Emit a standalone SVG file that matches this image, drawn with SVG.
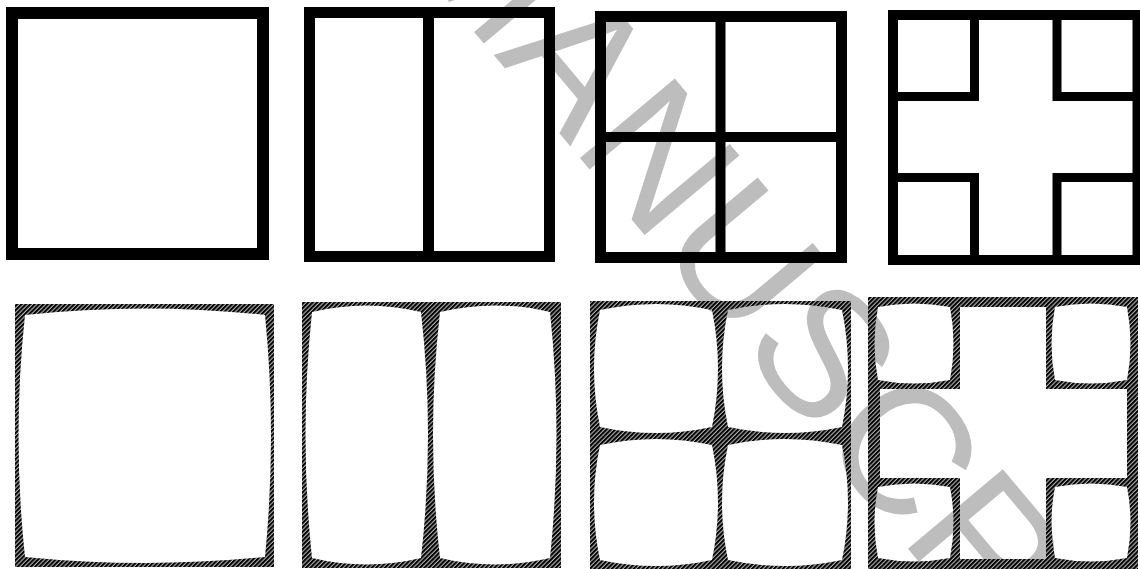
<svg xmlns="http://www.w3.org/2000/svg" width="1140" height="569" viewBox="0 0 1140 569">
<defs>
<pattern id="hatch" patternUnits="userSpaceOnUse" width="3.1" height="3.1" patternTransform="rotate(45)">
<rect width="3.1" height="3.1" fill="#b4b4b4"/>
<rect width="2.0" height="3.1" fill="#000"/>
</pattern>
</defs>
<style>
.frame{fill:none;stroke:#000;stroke-linecap:square}
.hatched{fill:url(#hatch);fill-rule:evenodd}
.wm{font-family:"Liberation Sans",Arial,sans-serif;font-size:180px;fill:#bdbdbd}
</style>
<rect width="1140" height="569" fill="#fff"/>
<text class="wm" transform="translate(397,-60) rotate(50)">MANUSCRIPT</text>

<g id="top-1">
<rect class="frame" x="12" y="13" width="251" height="241" stroke-width="12"/>
</g>
<g id="top-2">
<rect class="frame" x="309.5" y="12.5" width="240" height="244" stroke-width="11"/>
<line class="frame" x1="428.5" y1="12.5" x2="428.5" y2="256.5" stroke-width="11"/>
</g>
<g id="top-3">
<rect class="frame" x="600.5" y="16.5" width="241" height="241" stroke-width="11"/>
<line class="frame" x1="720.5" y1="16.5" x2="720.5" y2="257.5" stroke-width="10"/>
<line class="frame" x1="600.5" y1="137" x2="841.5" y2="137" stroke-width="10"/>
</g>
<g id="top-4">
<rect class="frame" x="893" y="15" width="244.5" height="245" stroke-width="10"/>
<polyline class="frame" points="974.5,15 974.5,96.5 893,96.5" stroke-width="9"/>
<polyline class="frame" points="1057,15 1057,96.5 1137.5,96.5" stroke-width="9"/>
<polyline class="frame" points="893,177.5 974.5,177.5 974.5,260" stroke-width="9"/>
<polyline class="frame" points="1137.5,177.5 1057,177.5 1057,260" stroke-width="9"/>
</g>

<g id="bottom-1">
<path class="hatched" d="M15,304H274V567H15Z M25,315 Q145,302 265,315 Q277,436 265,557 Q145,569 25,557 Q12,436 25,315Z"/>
</g>
<g id="bottom-2">
<path class="hatched" d="M302,302H561V568H302Z M312,312 Q366.5,299 421,312 Q435,435 421,558 Q366.5,571 312,558 Q299,435 312,312Z M440,312 Q495,299 550,312 Q563,435 550,558 Q495,571 440,558 Q426,435 440,312Z"/>
</g>
<g id="bottom-3">
<path class="hatched" d="M590,301H851V569H590Z M600,310 Q656,298 712,310 Q724,368.5 712,427 Q656,439 600,427 Q588,368.5 600,310Z M728,310 Q785,298 842,310 Q854,368.5 842,427 Q785,439 728,427 Q716,368.5 728,310Z M600,445 Q656,433 712,445 Q724,502.5 712,560 Q656,572 600,560 Q588,502.5 600,445Z M728,445 Q785,433 842,445 Q854,502.5 842,560 Q785,572 728,560 Q716,502.5 728,445Z"/>
</g>
<g id="bottom-4">
<path class="hatched" d="M868,297H1138V569H868Z M878,307 Q914,300 950,307 Q957,343.5 950,380 Q914,387 878,380 Q871,343.5 878,307Z M1055,307 Q1091,300 1127,307 Q1134,343.5 1127,380 Q1091,387 1055,380 Q1048,343.5 1055,307Z M878,487 Q914,480 950,487 Q957,522.5 950,558 Q914,565 878,558 Q871,522.5 878,487Z M1055,487 Q1091,480 1127,487 Q1134,522.5 1127,558 Q1091,565 1055,558 Q1048,522.5 1055,487Z M960,307H1046V389H1127V478H1046V559H960V478H880V389H960Z"/>
</g>
<g id="connectors"></g>
</svg>
